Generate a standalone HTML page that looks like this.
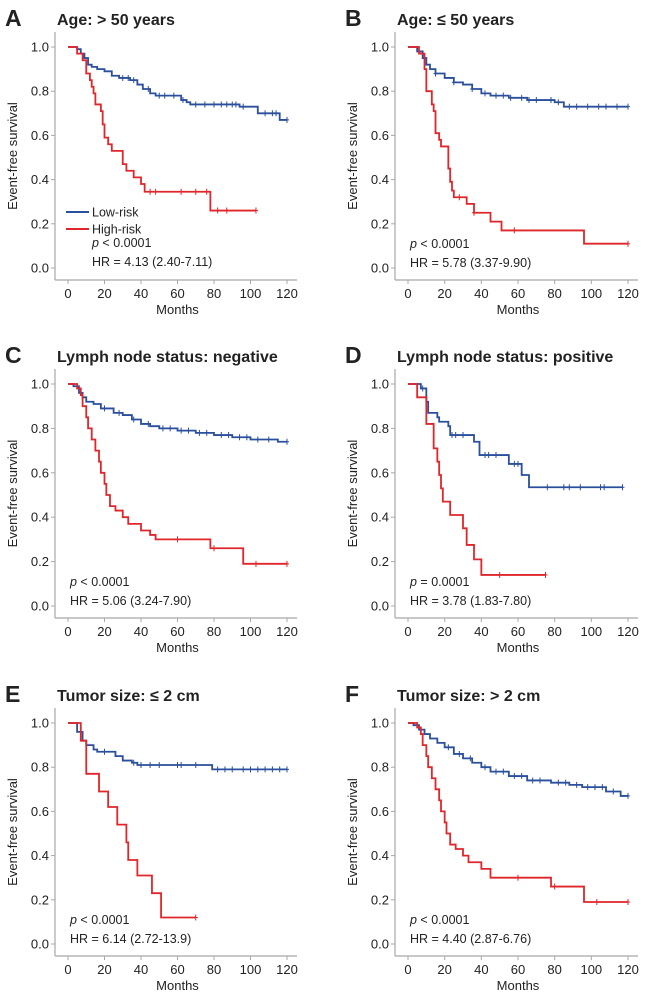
<!DOCTYPE html>
<html><head><meta charset="utf-8">
<style>
html,body{margin:0;padding:0;background:#fff;}
svg{display:block;font-family:"Liberation Sans",sans-serif;}
</style></head>
<body>
<svg id="fig" width="650" height="1006" viewBox="0 0 650 1006" xmlns="http://www.w3.org/2000/svg"></svg>
<script>
// ---- data ----
const yTicks = [0.0, 0.2, 0.4, 0.6, 0.8, 1.0];
const xTicks = [0, 20, 40, 60, 80, 100, 120];
const panelLetters = ["A","B","C","D","E","F"];
const panelTitles = ["Age: > 50 years","Age: \u2264 50 years","Lymph node status: negative","Lymph node status: positive","Tumor size: \u2264 2 cm","Tumor size: > 2 cm"];
const pTexts = ["< 0.0001","< 0.0001","< 0.0001","= 0.0001","< 0.0001","< 0.0001"];
const hrTexts = ["HR = 4.13 (2.40-7.11)","HR = 5.78 (3.37-9.90)","HR = 5.06 (3.24-7.90)","HR = 3.78 (1.83-7.80)","HR = 6.14 (2.72-13.9)","HR = 4.40 (2.87-6.76)"];

const lowT = [
 [0,5,7,9,11,13,16,20,24,28,34,38,41,45,48,62,65,67,94,104,116,120],
 [0,5,8,10,12,15,20,25,30,35,40,45,55,65,80,85,120],
 [0,3,6,8,10,14,18,25,30,35,40,45,50,60,70,80,90,100,115,120],
 [0,7,10,11,16,17,22,23,36,39,55,62,66,117],
 [0,5,8,10,14,16,26,30,35,38,79,120],
 [0,3,6,9,12,16,20,25,30,35,40,45,55,65,78,88,95,108,116,120]];
const lowS = [
 [1,0.99,0.97,0.95,0.92,0.91,0.90,0.89,0.87,0.86,0.85,0.83,0.81,0.79,0.78,0.76,0.75,0.74,0.73,0.70,0.67,0.67],
 [1,0.98,0.95,0.92,0.90,0.88,0.86,0.84,0.83,0.81,0.79,0.78,0.77,0.76,0.75,0.73,0.73],
 [1,0.99,0.96,0.94,0.92,0.91,0.89,0.87,0.86,0.84,0.82,0.81,0.80,0.79,0.78,0.77,0.76,0.75,0.74,0.74],
 [1,0.98,0.92,0.87,0.85,0.83,0.81,0.77,0.74,0.68,0.64,0.59,0.535,0.535],
 [1,0.96,0.92,0.90,0.88,0.87,0.85,0.83,0.82,0.81,0.79,0.79],
 [1,0.99,0.97,0.95,0.93,0.91,0.89,0.86,0.84,0.82,0.80,0.78,0.76,0.74,0.73,0.72,0.71,0.69,0.67,0.67]];
const highT = [
 [0,5,8,10,12,13,14,15,18,19,20,22,24,30,32,36,40,42,78,103],
 [0,6,9,10,13,14,15,17,18,22,23,24,25,32,36,45,51,96,120],
 [0,5,7,8,10,11,13,15,17,18,20,21,23,26,30,33,40,45,48,78,96,120],
 [0,5,10,14,16,17,18,19,23,30,32,36,40,75],
 [0,7,10,17,22,27,32,33,38,46,51,70],
 [0,5,7,8,10,11,13,15,17,18,20,21,23,26,30,33,40,45,78,96,120]];
const highS = [
 [1,0.97,0.94,0.88,0.85,0.82,0.79,0.74,0.71,0.65,0.59,0.56,0.53,0.47,0.44,0.41,0.38,0.345,0.26,0.26],
 [1,0.97,0.90,0.80,0.74,0.71,0.61,0.58,0.55,0.45,0.39,0.35,0.32,0.29,0.25,0.21,0.17,0.11,0.11],
 [1,0.98,0.95,0.90,0.85,0.80,0.75,0.70,0.65,0.60,0.55,0.50,0.45,0.43,0.40,0.37,0.34,0.32,0.30,0.26,0.19,0.19],
 [1,0.94,0.82,0.71,0.65,0.59,0.53,0.47,0.41,0.35,0.275,0.21,0.14,0.14],
 [1,0.92,0.77,0.69,0.62,0.54,0.46,0.38,0.31,0.23,0.12,0.12],
 [1,0.98,0.95,0.90,0.85,0.80,0.75,0.70,0.65,0.60,0.55,0.50,0.45,0.43,0.40,0.37,0.34,0.30,0.26,0.19,0.19]];
const lowCensor = [
 [30,33,36,44,50,53,58,63,70,75,80,84,87,90,92,96,108,112,114,120],
 [15,25,35,42,48,52,56,62,66,70,78,82,88,92,98,104,108,114,120],
 [20,28,36,44,52,56,62,66,72,76,84,88,94,98,104,110,120],
 [8,24,26,30,42,44,48,58,60,76,85,88,94,105,107,117],
 [20,36,40,45,50,60,62,70,82,86,90,96,100,104,108,112,116,120],
 [22,28,34,42,48,52,58,62,68,72,82,86,92,98,102,106,112,120]];
const highCensor = [[45,48,62,70,76,82,87,103],[28,36,58,120],[60,80,103,120],[50,75],[70],[60,80,103,120]];

// ---- layout ----
const colX0 = [68, 408], colX120 = [287, 628], colAxis = [55, 395];
const rowY1 = [47, 384, 723], rowY0 = [268, 606, 944];
const BLUE = "#2a4f9c", RED = "#e0262a", AX = "#a8a8a8";
const svg = document.getElementById("fig");
const NS = "http://www.w3.org/2000/svg";
function mk(tag, attrs, parent) {
  const e = document.createElementNS(NS, tag);
  for (const k in attrs) e.setAttribute(k, attrs[k]);
  (parent || svg).appendChild(e);
  return e;
}
function txt(s, attrs, parent) { const e = mk("text", attrs, parent); e.textContent = s; return e; }

for (let i = 0; i < 6; i++) {
  const c = i % 2, r = Math.floor(i / 2);
  const x0 = colX0[c], x1 = colX120[c], ax = colAxis[c], y1 = rowY1[r], y0 = rowY0[r];
  const sx = t => x0 + (x1 - x0) * t / 120;
  const sy = v => y0 - (y0 - y1) * v;
  const g = mk("g", {});
  
  
  const L = txt(panelLetters[i], {x: ax - 50, y: y1 - 21, "font-size": 23, "font-weight": "bold", fill: "#222"}, g);
  
  
  const T = txt(panelTitles[i], {x: ax + 2, y: y1 - 22, "font-size": 16, "font-weight": "bold", fill: "#222"}, g);
  
  
  const axisTop = y1 - 15, axisBot = y0 + 12;
  const yl = mk("line", {x1: ax, y1: axisTop, x2: ax, y2: axisBot, stroke: AX, "stroke-width": 1.2}, g);
  
  
  const xl = mk("line", {x1: ax, y1: axisBot, x2: x1 + 10, y2: axisBot, stroke: AX, "stroke-width": 1.2}, g);
  
  
  yTicks.forEach(v => {
    mk("line", {x1: ax - 4, y1: sy(v), x2: ax, y2: sy(v), stroke: AX}, g);
    const t = txt(v.toFixed(1), {x: ax - 6, y: sy(v) + 4.5, "font-size": 13, "text-anchor": "end", fill: "#222"}, g);
    
    
  });
  xTicks.forEach(v => {
    mk("line", {x1: sx(v), y1: axisBot, x2: sx(v), y2: axisBot + 4, stroke: AX}, g);
    const t = txt(String(v), {x: sx(v), y: axisBot + 18, "font-size": 13, "text-anchor": "middle", fill: "#222"}, g);
    
    
  });
  const xt = txt("Months", {x: (x0 + x1) / 2, y: axisBot + 34, "font-size": 13, "text-anchor": "middle", fill: "#222"}, g);
  
  
  const yx = ax - 38, yy = (axisTop + axisBot) / 2;
  const yt = txt("Event-free survival", {x: yx, y: yy, "font-size": 13, "text-anchor": "middle", fill: "#222", transform: `rotate(-90 ${yx} ${yy})`}, g);
  
  

  function curve(T, S, cens, col, name) {
    let d = `M${sx(T[0])},${sy(S[0])}`;
    for (let k = 1; k < T.length; k++) d += ` H${sx(T[k])} V${sy(S[k])}`;
    const p = mk("path", {d: d, fill: "none", stroke: col, "stroke-width": 1.8}, g);
    
    
    cens.forEach(t => {
      let v = S[0];
      for (let k = 0; k < T.length; k++) if (T[k] <= t) v = S[k];
      const m = mk("path", {d: `M${sx(t)},${sy(v) - 3} V${sy(v) + 3} M${sx(t) - 2},${sy(v)} H${sx(t) + 2}`, stroke: col, "stroke-width": 1}, g);
      
      
    });
  }
  curve(lowT[i], lowS[i], lowCensor[i], BLUE, 'low-risk-curve');
  curve(highT[i], highS[i], highCensor[i], RED, 'high-risk-curve');

  const tx = x0 + (i === 0 ? 24 : 2);
  const pY = i === 0 ? y0 - 21 : y0 - 20;
  const pt = txt("", {x: tx, y: pY, "font-size": 12.5, fill: "#222"}, g);
  
  
  const it = mk("tspan", {"font-style": "italic"}, pt); it.textContent = "p";
  const rt = mk("tspan", {}, pt); rt.textContent = " " + pTexts[i];
  const hr = txt(hrTexts[i], {x: tx, y: pY + 19, "font-size": 12.5, fill: "#222"}, g);
  
  
  if (i === 0) {
    const lg = mk("g", {}, g);
    
    
    [["Low-risk", BLUE, y0 - 56], ["High-risk", RED, y0 - 39]].forEach(([lab, col, yy2]) => {
      mk("line", {x1: 66, y1: yy2, x2: 89, y2: yy2, stroke: col, "stroke-width": 2}, lg);
      const e = txt(lab, {x: 92, y: yy2 + 4.5, "font-size": 12.5, fill: "#222"}, lg);
      
      
    });
  }
}
</script>
</body></html>
